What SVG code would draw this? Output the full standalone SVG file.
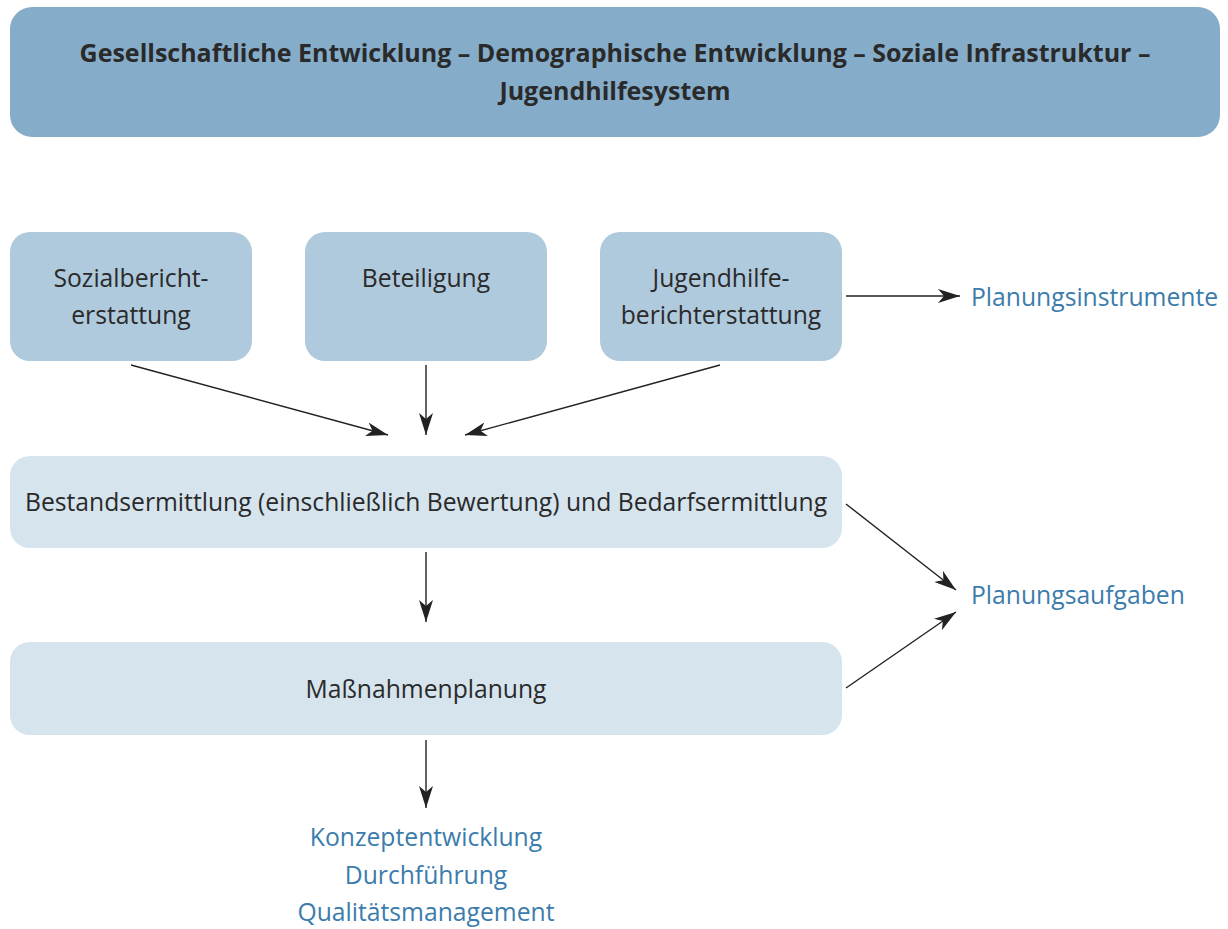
<svg xmlns="http://www.w3.org/2000/svg" width="1228" height="929" viewBox="0 0 1228 929">
<style>
text{font-family:"Open Sans","Noto Sans","Liberation Sans",sans-serif;font-size:24.7px;fill:#2a2a2a;text-anchor:middle}
.t{font-weight:bold;font-size:25px}
.b{fill:#3b7cad;text-anchor:start}
.c{fill:#3b7cad}
.l1{fill:#85adca}
.l2{fill:#afc9dd}
.l3{fill:#d6e4ee}
.e{stroke:#222;stroke-width:1.4;fill:none;marker-end:url(#ah)}
</style>
<defs>
<marker id="ah" markerUnits="userSpaceOnUse" viewBox="0 0 22 14" refX="22" refY="7" markerWidth="22" markerHeight="14" orient="auto">
<path d="M0,0 L22,7 L0,14 L6,7 z" fill="#222"/>
</marker>
</defs>
<rect width="1228" height="929" fill="#fff"/>
<g id="top">
<rect class="l1" x="10" y="7" width="1210" height="130" rx="22"/>
<text class="t" x="615" y="62">Gesellschaftliche Entwicklung – Demographische Entwicklung – Soziale Infrastruktur –</text>
<text class="t" x="615" y="100">Jugendhilfesystem</text>
</g>
<g id="sozial">
<rect class="l2" x="10" y="232" width="242" height="129" rx="20"/>
<text x="131" y="287">Sozialbericht-</text>
<text x="131" y="324">erstattung</text>
</g>
<g id="beteiligung">
<rect class="l2" x="305" y="232" width="242" height="129" rx="20"/>
<text x="426" y="287">Beteiligung</text>
</g>
<g id="jugend">
<rect class="l2" x="600" y="232" width="242" height="129" rx="20"/>
<text x="721" y="287">Jugendhilfe-</text>
<text x="721" y="324">berichterstattung</text>
</g>
<g id="bestand">
<rect class="l3" x="10" y="456" width="832" height="92" rx="20"/>
<text x="426" y="511">Bestandsermittlung (einschließlich Bewertung) und Bedarfsermittlung</text>
</g>
<g id="massnahmen">
<rect class="l3" x="10" y="642" width="832" height="93" rx="20"/>
<text x="426" y="698">Maßnahmenplanung</text>
</g>
<g id="instrumente"><text class="b" x="971" y="306">Planungsinstrumente</text></g>
<g id="aufgaben"><text class="b" x="971" y="604">Planungsaufgaben</text></g>
<g id="ergebnis">
<text class="c" x="426" y="846">Konzeptentwicklung</text>
<text class="c" x="426" y="884">Durchführung</text>
<text class="c" x="426" y="921">Qualitätsmanagement</text>
</g>
<g id="connectors">
<line class="e" x1="131" y1="365" x2="388" y2="435"/>
<line class="e" x1="426" y1="365" x2="426" y2="435"/>
<line class="e" x1="720" y1="365" x2="465" y2="435"/>
<line class="e" x1="846" y1="296" x2="960" y2="296"/>
<line class="e" x1="426" y1="552" x2="426" y2="622"/>
<line class="e" x1="846" y1="504" x2="956" y2="590"/>
<line class="e" x1="846" y1="688" x2="956" y2="612"/>
<line class="e" x1="426" y1="740" x2="426" y2="808"/>
</g>
</svg>
